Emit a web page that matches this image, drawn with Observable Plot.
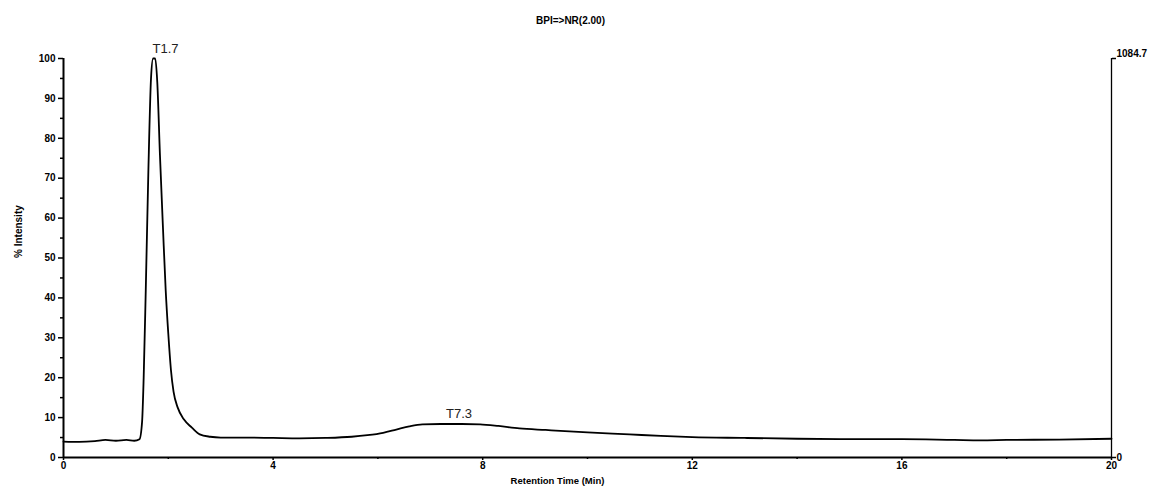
<!DOCTYPE html>
<html><head><meta charset="utf-8">
<script src="https://cdn.jsdelivr.net/npm/d3@7"></script>
<script src="https://cdn.jsdelivr.net/npm/@observablehq/plot@0.6"></script>
<style>body{margin:0;background:#fff}</style>
</head><body><div id="chart"></div>
<script>
const times = [0, 0.3, 0.6, 0.8, 1.0, 1.2, 1.35, 1.45, 1.5, 1.53, 1.57, 1.62, 1.67, 1.71, 1.75, 1.79, 1.84, 1.9, 1.95, 2.0, 2.05, 2.1, 2.18, 2.3, 2.45, 2.6, 2.8, 3.0, 3.5, 4.0, 4.5, 5.0, 5.5, 5.8, 6.1, 6.35, 6.6, 6.85, 7.2, 7.6, 7.95, 8.3, 8.7, 9.2, 10.0, 10.8, 11.4, 12.0, 13.0, 14.0, 15.0, 16.0, 17.0, 17.5, 18.0, 19.0, 20.0];
const intensity = [4.0, 3.9, 4.1, 4.4, 4.2, 4.4, 4.2, 4.6, 9.0, 20.0, 42, 72, 95, 100, 100, 94, 76, 57, 42, 31, 22, 16.5, 12.5, 9.5, 7.5, 5.8, 5.2, 5.0, 5.0, 4.9, 4.8, 4.9, 5.2, 5.6, 6.2, 7.0, 7.8, 8.3, 8.4, 8.4, 8.3, 7.9, 7.3, 6.9, 6.3, 5.8, 5.4, 5.1, 4.9, 4.7, 4.6, 4.6, 4.4, 4.3, 4.4, 4.5, 4.7];
const peakTimes = [1.7, 7.3];
const peakValues = [100, 8.4];
const peakNames = ["T1.7", "T7.3"];
const yMajorTicks = [0, 10, 20, 30, 40, 50, 60, 70, 80, 90, 100];
const yMinorTicks = [5, 15, 25, 35, 45, 55, 65, 75, 85, 95];
const xMajorTicks = [0, 4, 8, 12, 16, 20];
const xMinorTicks = [2, 6, 10, 14, 18];
const rightTicks = [0, 100];
const rightTickTop = [100];
const rightLabelTop = "1084.7";
const rightLabelBottom = "0";
const titleText = "BPI=>NR(2.00)";
const xLabel = "Retention Time (Min)";
const yLabel = "% Intensity";

const data = times.map((t, i) => ({t, v: intensity[i]}));
const peaks = peakTimes.map((t, i) => ({t, v: peakValues[i], name: peakNames[i]}));
const font = "'Liberation Sans', Arial, sans-serif";
const bold = {fontWeight: "bold", fontSize: 10};

const chart = Plot.plot({
  width: 1163, height: 491,
  marginLeft: 63, marginRight: 52, marginTop: 58, marginBottom: 34,
  style: {fontFamily: font, background: "white", color: "black"},
  x: {domain: [0, 20]},
  y: {domain: [0, 100]},
  marks: [
    Plot.axisY({ticks: yMajorTicks, tickSize: 5, tickPadding: 3, strokeWidth: 1.5, label: null, ...bold}),
    Plot.axisY({ticks: yMinorTicks, tickSize: 3, tickFormat: () => "", strokeWidth: 1.5, label: null}),
    Plot.axisX({ticks: xMajorTicks, tickSize: 3, tickPadding: 1, strokeWidth: 1.5, label: null, ...bold}),
    Plot.axisX({ticks: xMinorTicks, tickSize: 2, tickFormat: () => "", strokeWidth: 1.5, label: null}),
    Plot.axisY({ticks: rightTicks, anchor: "right", tickSize: 4, tickPadding: 1, tickFormat: d => d === 0 ? rightLabelBottom : "", strokeWidth: 1.5, label: null, ...bold}),
    Plot.text(rightTickTop, {x: () => 20, y: d => d, text: () => rightLabelTop, textAnchor: "start", dx: 5, dy: -5, ...bold}),
    Plot.ruleX([0], {strokeWidth: 2}),
    Plot.ruleY([0], {strokeWidth: 2}),
    Plot.ruleX([20], {strokeWidth: 1.3}),
    Plot.line(data, {x: "t", y: "v", stroke: "black", strokeWidth: 1.8, curve: "monotone-x"}),
    Plot.text(peaks, {x: "t", y: "v", text: "name", textAnchor: "start", dy: -10, fontSize: 13, fill: "#222"}),
    Plot.text([titleText], {frameAnchor: "top", lineAnchor: "middle", dx: -17, dy: -38, ...bold}),
    Plot.text([xLabel], {frameAnchor: "bottom", lineAnchor: "middle", dx: -30, dy: 23, fontWeight: "bold", fontSize: 9.5}),
    Plot.text([yLabel], {frameAnchor: "left", rotate: -90, dx: -45, fontWeight: "bold", fontSize: 10})
  ]
});
document.getElementById("chart").appendChild(chart);
</script>
</body></html>
